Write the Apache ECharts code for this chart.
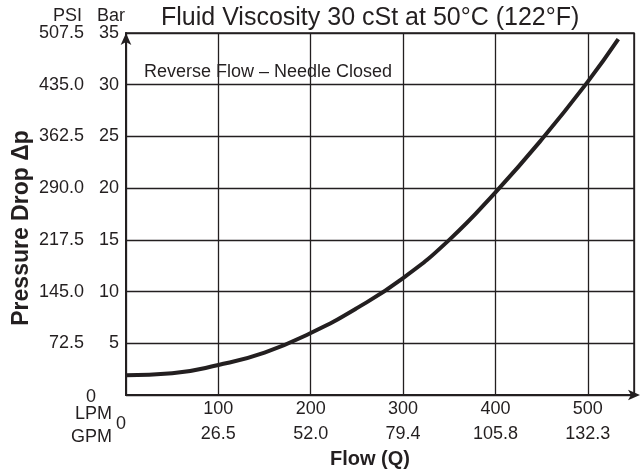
<!DOCTYPE html>
<html>
<head>
<meta charset="utf-8">
<script src="https://cdn.jsdelivr.net/npm/echarts@6/dist/echarts.min.js"></script>
<style>
html,body{margin:0;padding:0;background:#fff;}
#c{width:642px;height:474px;}
</style>
</head>
<body>
<div id="c"></div>
<script>
// Flow in LPM and pressure drop in bar
const flowLPM = [0, 50, 100, 150, 200, 250, 300, 350, 400, 450, 500, 533];
const dropBar = [1.9, 2.1, 2.9, 4.1, 6.0, 8.4, 11.3, 15.0, 19.6, 24.7, 30.3, 34.4];
// tick labels
const gpmLabels = ['0', '26.5', '52.0', '79.4', '105.8', '132.3'];
const titleText = 'Fluid Viscosity 30 cSt at 50°C (122°F)';
const noteText = 'Reverse Flow \u2013 Needle Closed';

const FONT = "'Liberation Sans', Arial, Helvetica, sans-serif";
const INK = '#231f20';

const chart = echarts.init(document.getElementById('c'));
chart.setOption({
  backgroundColor: '#fff',
  animation: false,
  textStyle: { fontFamily: FONT, color: INK },
  title: [
    { text: titleText, left: 156, top: 1,
      textStyle: { fontFamily: FONT, fontSize: 25, fontWeight: 'normal', color: INK } },
    { text: noteText, left: 139, top: 58,
      textStyle: { fontFamily: FONT, fontSize: 18, fontWeight: 'normal', color: INK } }
  ],
  grid: { left: 126, right: 8, top: 33, bottom: 75, show: true, borderColor: INK, borderWidth: 1.5, backgroundColor: 'transparent' },
  xAxis: [
    { type: 'value', position: 'bottom', min: 0, max: 550, interval: 100,
      axisLine: { show: false }, axisTick: { show: false },
      axisLabel: { margin: 5, fontSize: 18, color: INK, fontFamily: FONT, showMinLabel: false, showMaxLabel: false },
      splitLine: { show: true, lineStyle: { color: INK, width: 1.3 } } },
    { type: 'value', position: 'bottom', offset: 25, min: 0, max: 550, interval: 100,
      axisLine: { show: true, symbol: ['none', 'arrow'], symbolSize: [8, 12], symbolOffset: [0, 6], lineStyle: { color: INK, width: 2 } },
      axisTick: { show: false },
      axisLabel: { margin: 5, fontSize: 18, color: INK, fontFamily: FONT, showMinLabel: false, showMaxLabel: false,
        formatter: v => gpmLabels[Math.round(v / 100)] || '' },
      splitLine: { show: false },
      name: 'Flow (Q)', nameLocation: 'middle', nameGap: 29,
      nameTextStyle: { fontFamily: FONT, fontSize: 20, fontWeight: 'bold', color: INK, padding: [0, 20, 0, 0] } }
  ],
  yAxis: [
    { type: 'value', position: 'left', min: 0, max: 35, interval: 5,
      axisLine: { show: false }, axisTick: { show: false },
      axisLabel: { margin: 7, fontSize: 18, color: INK, fontFamily: FONT, showMinLabel: false },
      splitLine: { show: true, lineStyle: { color: INK, width: 1.3 } } },
    { type: 'value', position: 'left', offset: 35, min: 0, max: 507.5, interval: 72.5,
      axisLine: { show: true, symbol: ['none', 'arrow'], symbolSize: [8, 12], lineStyle: { color: INK, width: 2 } },
      axisTick: { show: false },
      axisLabel: { margin: 7, fontSize: 18, color: INK, fontFamily: FONT, showMinLabel: false,
        formatter: v => v.toFixed(1) },
      splitLine: { show: false } }
  ],
  graphic: [
    { type: 'text', x: 82, y: 16, style: { text: 'PSI', font: '18px ' + FONT, fill: INK, textAlign: 'right', textVerticalAlign: 'middle' } },
    { type: 'text', x: 125, y: 16, style: { text: 'Bar', font: '18px ' + FONT, fill: INK, textAlign: 'right', textVerticalAlign: 'middle' } },
    { type: 'text', x: 91, y: 397, style: { text: '0', font: '18px ' + FONT, fill: INK, textAlign: 'center', textVerticalAlign: 'middle' } },
    { type: 'text', x: 112, y: 414, style: { text: 'LPM', font: '18px ' + FONT, fill: INK, textAlign: 'right', textVerticalAlign: 'middle' } },
    { type: 'text', x: 112, y: 437, style: { text: 'GPM', font: '18px ' + FONT, fill: INK, textAlign: 'right', textVerticalAlign: 'middle' } },
    { type: 'text', x: 121, y: 424, style: { text: '0', font: '18px ' + FONT, fill: INK, textAlign: 'center', textVerticalAlign: 'middle' } },
    { type: 'text', x: 22, y: 228, rotation: Math.PI / 2,
      style: { text: 'Pressure Drop \u0394p', font: 'bold 23px ' + FONT, fill: INK, textAlign: 'center', textVerticalAlign: 'middle' } }
  ],
  series: [
    { type: 'line', xAxisIndex: 0, yAxisIndex: 0,
      data: flowLPM.map((x, i) => [x, dropBar[i]]),
      smooth: 0.5, showSymbol: false, clip: true,
      lineStyle: { color: INK, width: 4 } }
  ]
});
</script>
</body>
</html>
